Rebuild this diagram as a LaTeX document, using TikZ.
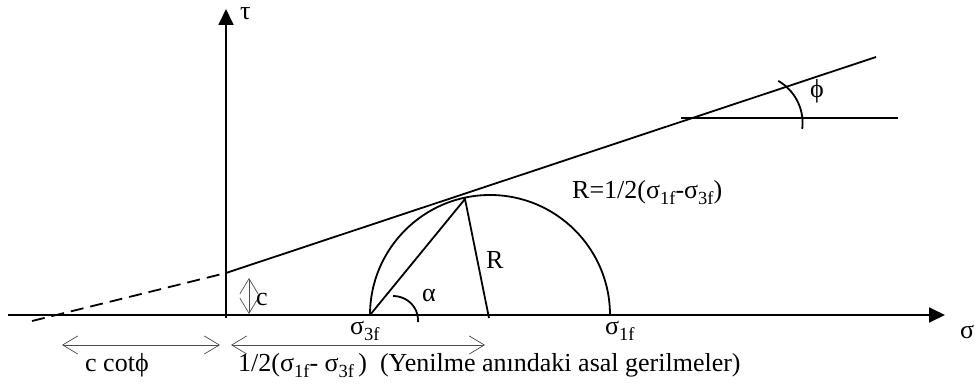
\documentclass[tikz,border=0pt]{standalone}
\usepackage{fontspec}
\setmainfont{Liberation Serif}
\usetikzlibrary{arrows.meta}
\newcommand\sbs[1]{\raisebox{-0.2em}{\fontsize{18.5}{19}\selectfont #1}}
\begin{document}
\begin{tikzpicture}[x=1pt,y=1pt,
  mainline/.style={line width=1.8pt, black},
  dimarrow/.style={line width=0.7pt, draw=black!70, <->, >={Straight Barb[length=15pt,width=18pt]}},
  lbl/.style={inner sep=0pt, anchor=base west, font=\fontsize{26}{31}\selectfont}]
\useasboundingbox (0,0) rectangle (977,385);
% axes
\coordinate (xs) at (8,70);
\coordinate (xe) at (945,70);
\coordinate (ys) at (226,67);
\coordinate (ye) at (226,376);
\draw[mainline, -{Triangle[length=16pt,width=15pt]}] (xs) -- (xe);
\draw[mainline, -{Triangle[length=16pt,width=15pt]}] (ys) -- (ye);
% failure envelope
\coordinate (D) at (32,64);
\coordinate (A) at (226,112);
\coordinate (B) at (876,328);
\draw[mainline, dash pattern=on 13pt off 7pt] (D) -- (A);
\draw[mainline] (A) -- (B);
% Mohr circle
\coordinate (C) at (490,70);
\coordinate (C1) at (610,70);
\coordinate (C3) at (370,70);
\coordinate (T) at (465,186);
\coordinate (Rb) at (489,67);
\draw[mainline] (C1) arc[start angle=0,end angle=180,radius=120];
\draw[mainline] (C3) -- (T) -- (Rb);
% alpha arc
\coordinate (al) at (393,89);
\draw[mainline] (al) arc[start angle=90,end angle=-5,x radius=25,y radius=24];
% phi construction
\coordinate (h1) at (681,267);
\coordinate (h2) at (898,267);
\draw[mainline] (h1) -- (h2);
\coordinate (p1) at (778.3,304.1);
\draw[mainline] (p1) arc[start angle=60,end angle=-7,radius=48.6];
% c arrow
\coordinate (c1) at (249,71);
\coordinate (c2) at (249,107);
\draw[dimarrow] (c1) -- (c2);
% bottom dimension arrows
\coordinate (d1) at (62,40);
\coordinate (d2) at (220,40);
\coordinate (d3) at (231,40);
\coordinate (d4) at (485,40);
\draw[dimarrow] (d1) -- (d2);
\draw[dimarrow] (d3) -- (d4);
% labels
\node[lbl] (tau) at (240,365) {τ};
\node[lbl] (clab) at (256,79) {c};
\node[lbl] (alab) at (422,83) {α};
\node[lbl] (rlab) at (486,116) {R};
\node[lbl] (rdef) at (572,186) {R=1/2(σ\sbs{1f}-σ\sbs{3f})};
\node[lbl, anchor=center] (philab) at (817,294) {ϕ};
\node[lbl] (s3) at (350,50) {σ\sbs{3f}};
\node[lbl] (s1) at (605,50) {σ\sbs{1f}};
\node[lbl] (sig) at (960,46) {σ};
\node[lbl] (ccot) at (85,13) {c cotϕ};
\node[lbl] (half) at (238,13) {1/2(σ\sbs{1f}- σ\sbs{3f}\,)\hspace{0.5em}(Yenilme anındaki asal gerilmeler)};
\end{tikzpicture}
\end{document}
